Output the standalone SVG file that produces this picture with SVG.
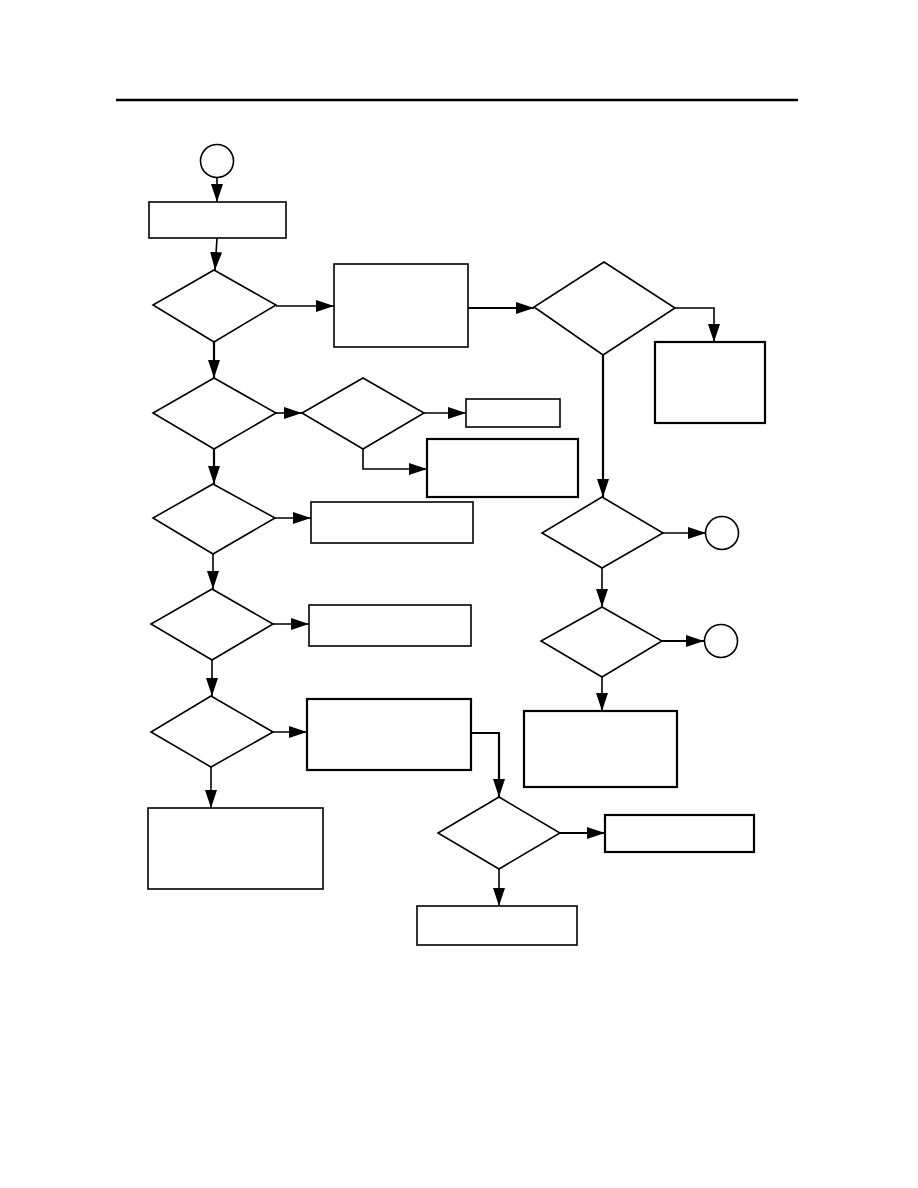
<svg xmlns="http://www.w3.org/2000/svg" width="918" height="1188" viewBox="0 0 918 1188">
<style>
.n{fill:#fff;stroke:#000;stroke-width:1.6}
.t{stroke-width:2.2}
.c{fill:none;stroke:#000;stroke-width:1.6}
.c2{fill:none;stroke:#000;stroke-width:2.2}
</style>
<defs>
<marker id="a" markerUnits="userSpaceOnUse" markerWidth="18" markerHeight="12" refX="18" refY="6" orient="auto">
<path d="M0,0 L18,6 L0,12 z" fill="#000"/>
</marker>
</defs>
<rect width="918" height="1188" fill="#fff"/>
<line x1="116" y1="100" x2="798" y2="100" stroke="#000" stroke-width="2.4"/>
<g id="connectors">
<path class="c" d="M217,178 V202" marker-end="url(#a)"/>
<path class="c" d="M217,238 L215,270" marker-end="url(#a)"/>
<path class="c" d="M276,306 H334" marker-end="url(#a)"/>
<path class="c2" d="M468,308 H534" marker-end="url(#a)"/>
<path class="c" d="M675,308 H714 V342" marker-end="url(#a)"/>
<path class="c2" d="M603,355 V497" marker-end="url(#a)"/>
<path class="c2" d="M214,342 V378" marker-end="url(#a)"/>
<path class="c" d="M276,413 H302" marker-end="url(#a)"/>
<path class="c" d="M424,413 H466" marker-end="url(#a)"/>
<path class="c" d="M363,449 V469 H427" marker-end="url(#a)"/>
<path class="c2" d="M214,449 V484" marker-end="url(#a)"/>
<path class="c" d="M275,518 H311" marker-end="url(#a)"/>
<path class="c" d="M213,554 V589" marker-end="url(#a)"/>
<path class="c" d="M273,624 H309" marker-end="url(#a)"/>
<path class="c" d="M212,660 V696" marker-end="url(#a)"/>
<path class="c" d="M273,732 H307" marker-end="url(#a)"/>
<path class="c2" d="M471,733 H499 V797" marker-end="url(#a)"/>
<path class="c" d="M211,767 V808" marker-end="url(#a)"/>
<path class="c2" d="M560,833 H605" marker-end="url(#a)"/>
<path class="c" d="M499,869 V906" marker-end="url(#a)"/>
<path class="c" d="M663,533 H706" marker-end="url(#a)"/>
<path class="c" d="M602,568 V607" marker-end="url(#a)"/>
<path class="c2" d="M662,641 H704" marker-end="url(#a)"/>
<path class="c" d="M602,677 V711" marker-end="url(#a)"/>
</g>
<g id="start"><circle class="n" cx="217" cy="161" r="16.5"/></g>
<g id="box1"><rect class="n" x="149" y="202" width="137" height="36"/></g>
<g id="dec1"><polygon class="n" points="214,270 276,305 214,342 153,305"/></g>
<g id="box2"><rect class="n" x="334" y="264" width="134" height="83"/></g>
<g id="dec3"><polygon class="n" points="604,262 675,308 603,355 534,307"/></g>
<g id="box3"><rect class="n t" x="655" y="342" width="110" height="81"/></g>
<g id="dec2"><polygon class="n" points="214,378 276,413 214,449 153,413"/></g>
<g id="dec2b"><polygon class="n" points="363,378 424,413 363,449 302,413"/></g>
<g id="box4"><rect class="n" x="466" y="399" width="94" height="28"/></g>
<g id="box5"><rect class="n t" x="427" y="439" width="151" height="58"/></g>
<g id="decL3"><polygon class="n" points="213,484 275,518 213,554 153,518"/></g>
<g id="box6"><rect class="n" x="311" y="502" width="162" height="41"/></g>
<g id="decL4"><polygon class="n" points="212,589 273,624 212,660 151,624"/></g>
<g id="box7"><rect class="n" x="309" y="605" width="162" height="41"/></g>
<g id="decL5"><polygon class="n" points="211,696 273,732 211,767 151,732"/></g>
<g id="box8"><rect class="n t" x="307" y="699" width="164" height="71"/></g>
<g id="box9"><rect class="n" x="148" y="808" width="175" height="81"/></g>
<g id="decB"><polygon class="n" points="499,797 560,833 499,869 438,833"/></g>
<g id="box10"><rect class="n t" x="605" y="815" width="149" height="37"/></g>
<g id="box11"><rect class="n" x="417" y="906" width="160" height="39"/></g>
<g id="decR1"><polygon class="n" points="602,497 663,533 602,568 542,533"/></g>
<g id="circ1"><circle class="n" cx="722" cy="533" r="16.5"/></g>
<g id="decR2"><polygon class="n" points="602,607 662,641 602,677 541,641"/></g>
<g id="circ2"><circle class="n" cx="721" cy="641" r="16.5"/></g>
<g id="box12"><rect class="n t" x="524" y="711" width="153" height="76"/></g>
</svg>
